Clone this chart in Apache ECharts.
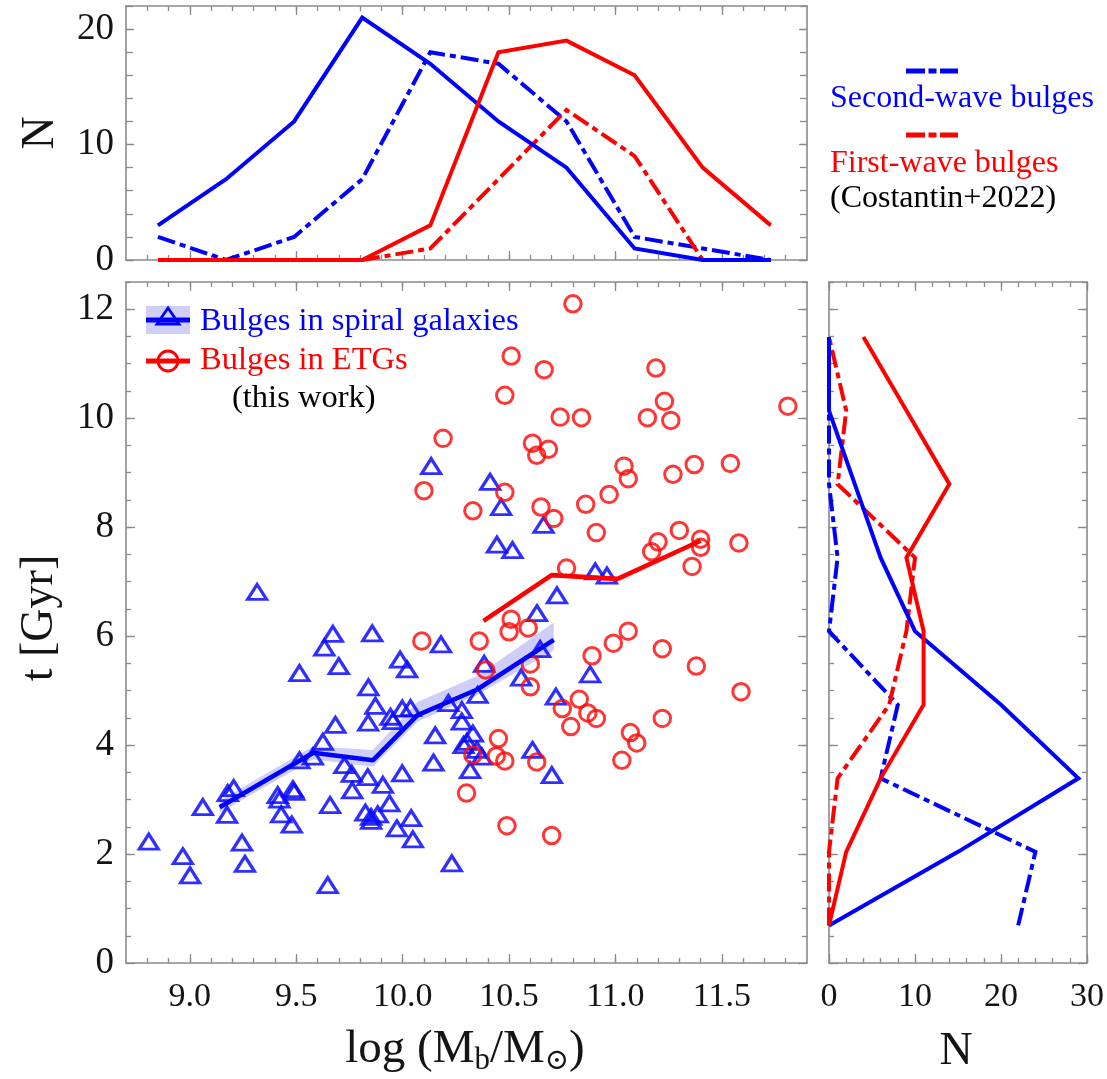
<!DOCTYPE html>
<html>
<head>
<meta charset="utf-8">
<script src="https://cdn.jsdelivr.net/npm/echarts@6/dist/echarts.min.js"></script>
<style>
  html, body { margin: 0; padding: 0; background: #ffffff; }
  #chart { width: 1107px; height: 1079px; }
</style>
</head>
<body>
<div id="chart"></div>
<script>
// ---------------- data ----------------
// bulge-mass histogram (top panel): bin centres in log(Mb/Msun)
const binsM = [8.85, 9.17, 9.49, 9.81, 10.13, 10.45, 10.77, 11.09, 11.41, 11.73];
const topSpiral     = [3, 7, 12, 21, 17, 12, 8, 1, 0, 0];
const topSecondWave = [2, 0, 2, 7, 18, 17, 12, 2, 1, 0];
const topETG        = [0, 0, 0, 0, 3, 18, 19, 16, 8, 3];
const topFirstWave  = [0, 0, 0, 0, 1, 7, 13, 9, 0, 0];

// age histogram (right panel): bin centres in Gyr
const binsT = [0.69, 2.04, 3.39, 4.74, 6.09, 7.44, 8.79, 10.14, 11.49];
const rightSpiral     = [0, 15, 29, 20, 10, 6, 3, 0, 0];
const rightSecondWave = [22, 24, 6, 8, 0, 1, 0, 0, 0];
const rightETG        = [0, 2, 6, 11, 11, 9, 14, 9, 4];
const rightFirstWave  = [0, 0, 1, 7, 9, 10, 1, 2, 0];

// bulges in ETGs: log mass and age
const etgMass = [10.80, 10.51, 10.665, 11.19, 10.48, 11.81, 11.23, 10.74, 10.84, 11.15, 11.26, 10.19,
  10.61, 10.63, 10.685, 11.04, 11.06, 11.37, 11.54, 11.27, 10.97, 10.86, 10.10, 10.48, 10.33, 10.65,
  10.71, 10.91, 11.30, 11.20, 11.17, 11.40, 11.40, 11.58, 11.36, 10.77, 10.51, 10.50, 10.59, 10.09,
  10.36, 10.89, 10.99, 11.06, 11.22, 11.38, 11.59, 10.39, 10.60, 10.60, 10.83, 10.75, 10.87, 10.91,
  10.79, 11.22, 11.07, 11.10, 11.03, 10.45, 10.33, 10.44, 10.48, 10.63, 10.30, 10.49, 10.70];
const etgAge = [12.10, 11.14, 10.89, 10.92, 10.42, 10.22, 10.31, 10.02, 10.01, 10.01, 9.96, 9.63,
  9.54, 9.32, 9.43, 9.12, 8.89, 9.15, 9.17, 8.97, 8.60, 8.42, 8.67, 8.64, 8.30, 8.37,
  8.16, 7.90, 7.94, 7.73, 7.55, 7.78, 7.63, 7.71, 7.28, 7.25, 6.31, 6.08, 6.15, 5.91,
  5.91, 5.64, 5.87, 6.09, 5.77, 5.45, 4.98, 5.38, 5.49, 5.07, 4.84, 4.67, 4.59, 4.49,
  4.34, 4.49, 4.23, 4.04, 3.72, 4.12, 3.82, 3.80, 3.71, 3.69, 3.12, 2.52, 2.34];

// bulges in spiral galaxies: log mass and age
const spiralMass = [9.316, 9.672, 9.632, 9.857, 9.70, 9.515, 9.988, 10.021, 9.839, 9.872, 9.838, 9.943,
  9.954, 9.998, 10.037, 9.684, 9.625, 9.515, 9.578, 9.726, 9.761, 9.836, 9.907, 9.998, 9.763, 9.206,
  9.178, 9.061, 9.175, 9.413, 9.421, 9.484, 9.49, 9.429, 9.479, 9.659, 9.938, 9.825, 9.852, 9.883,
  9.852, 10.04, 9.973, 10.048, 8.807, 8.967, 9.001, 9.245, 9.259, 9.648, 10.725, 10.631, 10.18, 10.383,
  10.646, 10.557, 10.881, 10.215, 10.278, 10.352, 10.278, 10.33, 10.302, 10.286, 10.349, 10.153, 10.372,
  10.317, 10.145, 10.72, 10.61, 10.701, 10.231, 10.905, 10.96, 10.134, 10.411, 10.463, 10.662, 10.443, 10.516];
const spiralAge = [6.81, 6.04, 5.79, 6.05, 5.45, 5.32, 5.57, 5.39, 5.06, 4.72, 4.41, 4.52,
  4.44, 4.67, 4.68, 4.37, 4.06, 3.72, 3.79, 3.63, 3.47, 3.41, 3.27, 3.48, 3.17, 3.21,
  3.12, 2.86, 2.72, 3.08, 3.00, 3.19, 3.14, 2.73, 2.54, 2.90, 2.93, 2.76, 2.68, 2.73,
  2.61, 2.66, 2.47, 2.27, 2.23, 1.96, 1.61, 2.21, 1.82, 1.43, 6.75, 6.42, 5.85, 5.49,
  5.76, 5.24, 5.30, 4.77, 4.64, 4.92, 4.43, 4.21, 4.06, 4.00, 3.91, 4.18, 3.79,
  3.54, 3.68, 4.89, 3.91, 3.45, 1.83, 7.19, 7.11, 9.12, 8.83, 8.37, 8.04, 7.68, 7.58];

// running means with uncertainty band
const meanSpiralM = [9.14, 9.58, 9.86, 10.07, 10.35, 10.71];
const meanSpiralT = [2.86, 3.86, 3.72, 4.55, 5.02, 5.93];
const bandLow     = [2.76, 3.74, 3.60, 4.43, 4.92, 5.74];
const bandHigh    = [2.98, 3.98, 3.91, 4.79, 5.27, 6.25];
const meanEtgM = [10.38, 10.70, 11.01, 11.40];
const meanEtgT = [6.28, 7.12, 7.05, 7.75];

// tick values
const massMajor = [9.0, 9.5, 10.0, 10.5, 11.0, 11.5];
const ageMajor = [0, 2, 4, 6, 8, 10, 12];
const countMajorTop = [0, 10, 20];
const countMajorRight = [0, 10, 20, 30];

// ---------------- styling ----------------
const FONT = '"Liberation Serif", "Times New Roman", "DejaVu Serif", serif';
const BLUE = '#0000ff';
const RED = '#ff0000';
const GRAY = '#8a8a8a';
const INK = '#141414';
const DASHDOT = [18, 5, 6, 5];

function steps(a, b, step) {
  const out = [];
  const n = Math.round((b - a) / step);
  for (let i = 0; i <= n; i++) out.push(+(a + i * step).toFixed(6));
  return out;
}

const xAxes = [];
const yAxes = [];

// one side of a panel frame: a major axis (line, long ticks, labels) plus a minor-tick axis
function addSide(list, gridIndex, position, min, max, majors, minors, majorLen, minorLen, label) {
  const base = { type: 'value', gridIndex: gridIndex, position: position, min: min, max: max,
    splitLine: { show: false }, axisPointer: { show: false }, silent: true };
  const major = Object.assign({}, base, {
    axisLine: { show: true, onZero: false, lineStyle: { color: GRAY, width: 1.6 } },
    axisTick: { show: true, inside: true, length: majorLen, customValues: majors,
      lineStyle: { color: GRAY, width: 1.3 } },
    axisLabel: label ? Object.assign({ show: true, customValues: label.values, fontFamily: FONT,
      color: INK }, label.style) : { show: false }
  });
  const minor = Object.assign({}, base, {
    axisLine: { show: false, onZero: false },
    axisTick: { show: true, inside: true, length: minorLen, customValues: minors,
      lineStyle: { color: GRAY, width: 1.3 } },
    axisLabel: { show: false }
  });
  list.push(major, minor);
  return list.length - 2;
}

const massMinor = steps(8.8, 11.8, 0.1);
const ageMinor = steps(0.5, 12.5, 0.5);

// top panel (grid 0)
const xTop = addSide(xAxes, 0, 'bottom', 8.7, 11.9, massMajor, massMinor, 9, 5, null);
addSide(xAxes, 0, 'top', 8.7, 11.9, massMajor, massMinor, 9, 5, null);
const yTop = addSide(yAxes, 0, 'left', 0, 22, countMajorTop, steps(0, 22, 2), 8, 7,
  { values: countMajorTop, style: { fontSize: 37, margin: 12 } });
addSide(yAxes, 0, 'right', 0, 22, countMajorTop, steps(0, 22, 2), 8, 7, null);

// main panel (grid 1)
const xMain = addSide(xAxes, 1, 'bottom', 8.7, 11.9, massMajor, massMinor, 9, 5,
  { values: massMajor, style: { fontSize: 34, margin: 17, formatter: function (v) { return v.toFixed(1); } } });
addSide(xAxes, 1, 'top', 8.7, 11.9, massMajor, massMinor, 9, 5, null);
const yMain = addSide(yAxes, 1, 'left', 0, 12.5, ageMajor, ageMinor, 9, 5,
  { values: ageMajor, style: { fontSize: 37, margin: 12 } });
addSide(yAxes, 1, 'right', 0, 12.5, ageMajor, ageMinor, 9, 5, null);

// right panel (grid 2)
const xRight = addSide(xAxes, 2, 'bottom', 0, 30, countMajorRight, steps(0, 30, 2), 9, 5,
  { values: countMajorRight, style: { fontSize: 34, margin: 17 } });
addSide(xAxes, 2, 'top', 0, 30, countMajorRight, steps(0, 30, 2), 9, 5, null);
const yRight = addSide(yAxes, 2, 'left', 0, 12.5, ageMajor, ageMinor, 9, 5, null);
addSide(yAxes, 2, 'right', 0, 12.5, ageMajor, ageMinor, 9, 5, null);

function histLine(xi, yi, xs, ys, color, dashed, swap) {
  return {
    type: 'line', xAxisIndex: xi, yAxisIndex: yi, symbol: 'none', clip: false, silent: true,
    data: xs.map(function (v, i) { return swap ? [ys[i], v] : [v, ys[i]]; }),
    lineStyle: { color: color, width: 4, type: dashed ? DASHDOT : 'solid', cap: 'butt', join: 'miter' },
    z: dashed ? 3 : 4
  };
}

const series = [
  // top histograms
  histLine(xTop, yTop, binsM, topSpiral, BLUE, false, false),
  histLine(xTop, yTop, binsM, topSecondWave, BLUE, true, false),
  histLine(xTop, yTop, binsM, topETG, RED, false, false),
  histLine(xTop, yTop, binsM, topFirstWave, RED, true, false),
  // right histograms (counts along x, age along y)
  histLine(xRight, yRight, binsT, rightSpiral, BLUE, false, true),
  histLine(xRight, yRight, binsT, rightSecondWave, BLUE, true, true),
  histLine(xRight, yRight, binsT, rightETG, RED, false, true),
  histLine(xRight, yRight, binsT, rightFirstWave, RED, true, true),
  // uncertainty band of the spiral running mean
  {
    type: 'custom', xAxisIndex: xMain, yAxisIndex: yMain, silent: true, z: 2,
    data: meanSpiralM.map(function (m, i) { return [m, bandLow[i], bandHigh[i]]; }),
    renderItem: function (params, api) {
      if (params.dataIndex !== 0) return null;
      const up = meanSpiralM.map(function (m, i) { return api.coord([m, bandHigh[i]]); });
      const dn = meanSpiralM.map(function (m, i) { return api.coord([m, bandLow[i]]); }).reverse();
      return { type: 'polygon', shape: { points: up.concat(dn) }, style: { fill: 'rgba(80,80,235,0.28)' } };
    }
  },
  // scatter points
  {
    type: 'scatter', xAxisIndex: xMain, yAxisIndex: yMain, silent: true, z: 3,
    data: spiralMass.map(function (m, i) { return [m, spiralAge[i]]; }),
    symbol: 'triangle', symbolSize: [19, 15],
    itemStyle: { opacity: 1, color: 'rgba(0,0,0,0)', borderColor: 'rgba(10,10,255,0.85)', borderWidth: 3.1, borderJoin: 'miter' }
  },
  {
    type: 'scatter', xAxisIndex: xMain, yAxisIndex: yMain, silent: true, z: 3,
    data: etgMass.map(function (m, i) { return [m, etgAge[i]]; }),
    symbol: 'circle', symbolSize: 16.5,
    itemStyle: { opacity: 1, color: 'rgba(0,0,0,0)', borderColor: 'rgba(255,10,10,0.82)', borderWidth: 3 }
  },
  // running means
  {
    type: 'line', xAxisIndex: xMain, yAxisIndex: yMain, symbol: 'none', silent: true, z: 5,
    data: meanSpiralM.map(function (m, i) { return [m, meanSpiralT[i]]; }),
    lineStyle: { color: BLUE, width: 4.6, cap: 'butt' }
  },
  {
    type: 'line', xAxisIndex: xMain, yAxisIndex: yMain, symbol: 'none', silent: true, z: 5,
    data: meanEtgM.map(function (m, i) { return [m, meanEtgT[i]]; }),
    lineStyle: { color: RED, width: 4.6, cap: 'butt' }
  }
];

// ---------------- text and keys ----------------
const measureCtx = document.createElement('canvas').getContext('2d');
function textWidth(str, size) {
  measureCtx.font = size + 'px ' + FONT;
  return measureCtx.measureText(str).width;
}

function txt(text, x, y, size, color, opts) {
  return Object.assign({
    type: 'text', x: x, y: y, silent: true, z: 100,
    style: { text: text, fontSize: size, fontFamily: FONT, fill: color,
      align: (opts && opts.align) || 'left', verticalAlign: 'middle' }
  }, opts && opts.rotation ? { rotation: opts.rotation } : {});
}

const graphics = [];

// key inside the main panel
graphics.push(
  { type: 'rect', silent: true, z: 99, shape: { x: 146, y: 306, width: 44, height: 28 },
    style: { fill: 'rgba(80,80,235,0.28)' } },
  { type: 'line', silent: true, z: 100, shape: { x1: 146, y1: 320, x2: 190, y2: 320 },
    style: { stroke: BLUE, lineWidth: 5 } },
  { type: 'polygon', silent: true, z: 101, shape: { points: [[168, 308], [157, 324], [179, 324]] },
    style: { fill: 'none', stroke: BLUE, lineWidth: 2.8 } },
  { type: 'line', silent: true, z: 100, shape: { x1: 146, y1: 361, x2: 190, y2: 361 },
    style: { stroke: RED, lineWidth: 5 } },
  { type: 'circle', silent: true, z: 101, shape: { cx: 168, cy: 361, r: 10 },
    style: { fill: 'none', stroke: RED, lineWidth: 2.8 } },
  txt('Bulges in spiral galaxies', 200, 321, 32.5, BLUE),
  txt('Bulges in ETGs', 200, 360, 32.5, RED),
  txt('(this work)', 232, 398, 32.5, '#000000')
);

// key for the Costantin+2022 histograms
graphics.push(
  { type: 'line', silent: true, z: 100, shape: { x1: 906, y1: 71, x2: 958, y2: 71 },
    style: { stroke: BLUE, lineWidth: 5, lineDash: [19, 3.5, 8, 3.5] } },
  txt('Second-wave bulges', 830, 99, 32, BLUE),
  { type: 'line', silent: true, z: 100, shape: { x1: 906, y1: 135, x2: 958, y2: 135 },
    style: { stroke: RED, lineWidth: 5, lineDash: [19, 3.5, 8, 3.5] } },
  txt('First-wave bulges', 830, 164, 32, RED),
  txt('(Costantin+2022)', 830, 199, 32, '#000000')
);

// axis titles
graphics.push(
  txt('N', 41, 133, 46, INK, { align: 'center', rotation: Math.PI / 2 }),
  txt('t [Gyr]', 40, 618, 46, INK, { align: 'center', rotation: Math.PI / 2 }),
  txt('N', 956, 1052, 46, INK, { align: 'center' })
);

// log (M_b / M_sun) with subscripts
(function () {
  const parts = [['log (M', 47, 0], ['b', 31, 11], ['/M', 47, 0], ['\u2299', 29, 11], [')', 47, 0]];
  let total = 0;
  parts.forEach(function (p) { total += textWidth(p[0], p[1]); });
  let x = 465 - total / 2;
  parts.forEach(function (p) {
    graphics.push(txt(p[0], x, 1050 + p[2], p[1], INK));
    x += textWidth(p[0], p[1]);
  });
})();

const chart = echarts.init(document.getElementById('chart'), null, { renderer: 'canvas' });
chart.setOption({
  animation: false,
  backgroundColor: '#ffffff',
  grid: [
    { left: 126, top: 6, width: 681, height: 254, containLabel: false },
    { left: 126, top: 282, width: 681, height: 681, containLabel: false },
    { left: 829, top: 282, width: 258, height: 681, containLabel: false }
  ],
  xAxis: xAxes,
  yAxis: yAxes,
  series: series,
  graphic: { elements: graphics }
});
</script>
</body>
</html>
